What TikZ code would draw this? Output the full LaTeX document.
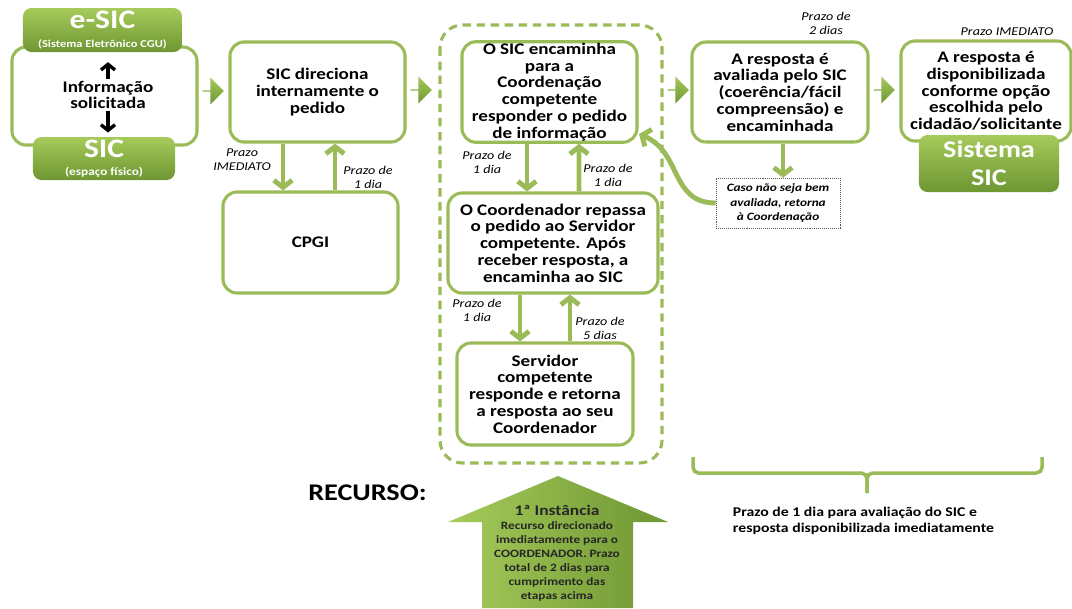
\documentclass[tikz,border=0pt]{standalone}
\usepackage{fontspec}
\setmainfont{Carlito}[FakeStretch=1.18]
\usetikzlibrary{arrows.meta,calc,shapes.arrows}
\definecolor{sicverde}{HTML}{9BBB59}
\definecolor{sicclaro}{HTML}{A6CB5B}
\definecolor{sicescuro}{HTML}{6E9632}

\begin{document}
\begin{tikzpicture}[x=0.025cm,y=-0.025cm,
  etapa/.style={draw=sicverde,line width=2.2pt,rounded corners=10pt,fill=white,align=center,inner sep=1pt,minimum width=4.375cm,minimum height=2.5cm,font=\fontsize{11.5}{11.9}\selectfont\bfseries},
  verde/.style={rounded corners=6pt,top color=sicclaro,bottom color=sicescuro,text=white,align=center,inner sep=1pt,font=\bfseries},
  seta/.style={draw=sicverde,line width=3.5pt,-{Straight Barb[length=5pt,width=13pt]}},
  preta/.style={line width=2.4pt,-{Straight Barb[length=4pt,width=10pt]}},
  prazo/.style={font=\fontsize{8.5}{9.8}\selectfont\itshape,align=center},
  passo/.style={single arrow,single arrow head extend=5pt,minimum height=15pt,minimum width=19pt,inner sep=0pt,top color=sicclaro,bottom color=sicescuro}]
\useasboundingbox (0,0) rectangle (1072,608);
\node[etapa,minimum width=4.625cm,minimum height=2.45cm] (info) at (104.5,96) {};
\node[font=\fontsize{11.5}{11.9}\selectfont\bfseries,align=center,inner sep=1pt] (infotxt) at (108,95) {Informação\\solicitada};
\node[verde,minimum width=3.975cm,minimum height=1.1cm] (esic) at (102.5,30) {{\fontsize{19}{19}\selectfont e-SIC}\\[1pt]{\fontsize{7.5}{8}\selectfont(Sistema Eletrônico CGU)}};
\node[verde,minimum width=3.55cm,minimum height=1.075cm] (sic) at (104,158.5) {{\fontsize{19}{19}\selectfont SIC}\\[1pt]{\fontsize{8}{9}\selectfont(espaço físico)}};
\draw[preta,shorten >=7pt] (infotxt.north) -- (infotxt.north |- esic.south);
\draw[preta,shorten >=3pt] (infotxt.south) -- (infotxt.south |- sic.north);
\node[passo] (p1) at (213,91) {};
\node[passo] (p2) at (421,90) {};
\node[passo] (p3) at (678,90) {};
\node[passo] (p4) at (884,90) {};
\node[etapa] (direciona) at (317.5,92) {SIC direciona\\internamente o\\pedido};
\node[etapa,minimum height=2.525cm] (cpgi) at (310.5,242.5) {CPGI};
\draw[sicverde,line width=2.2pt,dash pattern=on 6pt off 4pt,rounded corners=16pt] (440,25) rectangle (662,463);
\node[etapa] (encaminha) at (549.5,92) {O SIC encaminha\\para a\\Coordenação\\competente\\responder o pedido\\de informação};
\node[etapa,minimum width=5.25cm] (coord) at (553,243) {O Coordenador repassa\\o pedido ao Servidor\\competente. Após\\receber resposta, a\\encaminha ao SIC};
\node[etapa,minimum width=4.4cm,minimum height=2.55cm] (servidor) at (545,394) {Servidor\\competente\\responde e  retorna\\a resposta ao seu\\Coordenador};
\node[etapa,minimum width=4.4cm] (avaliada) at (780,92) {A resposta é\\avaliada pelo SIC\\(coerência/fácil\\compreensão) e\\encaminhada};
\node[etapa,minimum width=4.25cm] (disponib) at (986,91) {A resposta é\\disponibilizada\\conforme opção\\escolhida pelo\\cidadão/solicitante};
\node[verde,minimum width=3.5cm,minimum height=1.425cm,font=\fontsize{17}{20}\selectfont\bfseries] (sistema) at (989,163.5) {Sistema\\SIC};
\node[draw=gray!70!black,densely dotted,thin,fill=white,align=center,minimum width=3.1cm,minimum height=1.25cm,font=\fontsize{8}{10.3}\selectfont\bfseries\itshape] (caso) at (778,203) {Caso não  seja bem\\avaliada,  retorna\\à Coordenação};
\draw[seta] ($(direciona.south)+(-34.5,0)$) -- ($(cpgi.north)+(-27.5,0)$);
\draw[seta] ($(cpgi.north)+(24.5,0)$) -- ($(direciona.south)+(17.5,0)$);
\draw[seta] ($(encaminha.south)+(-22.5,0)$) -- ($(coord.north)+(-26,0)$);
\draw[seta] ($(coord.north)+(26,0)$) -- ($(encaminha.south)+(29.5,0)$);
\draw[seta] ($(coord.south)+(-33,0)$) -- ($(servidor.north)+(-25,0)$);
\draw[seta] ($(servidor.north)+(25,0)$) -- ($(coord.south)+(17,0)$);
\draw[seta] ($(avaliada.south)+(3,0)$) -- ($(caso.north)+(5,0)$);
\coordinate (retorno) at (639,134);
\draw[seta] (caso.west) .. controls (670,203) and (682,152) .. (retorno);
\node[prazo] (pz1) at (242,160) {Prazo\\IMEDIATO};
\node[prazo] (pz2) at (368,177) {Prazo de\\1 dia};
\node[prazo] (pz3) at (487,162) {Prazo de\\1 dia};
\node[prazo] (pz4) at (608,175) {Prazo de\\1 dia};
\node[prazo] (pz5) at (477,310) {Prazo de\\1 dia};
\node[prazo] (pz6) at (600,328) {Prazo de\\5 dias};
\node[prazo] (pz7) at (826,23) {Prazo de\\2 dias};
\node[prazo] (pz8) at (1007,32) {Prazo IMEDIATO};
\draw[sicverde,line width=2.5pt,rounded corners=4pt] (693,457) |- (867,473) -- (867,493);
\draw[sicverde,line width=2.5pt,rounded corners=4pt] (1042,457) |- (867,473) -- (867,493);
\node[anchor=west,align=left,font=\fontsize{9.5}{11.4}\selectfont\bfseries] (resumo) at (728,521) {Prazo de 1 dia para avaliação do SIC e\\resposta disponibilizada imediatamente};
\node[anchor=west,inner sep=0pt,font=\fontsize{17}{17}\selectfont\bfseries] (recurso) at (308,493) {RECURSO:};
\shade[left color=sicclaro,right color=sicescuro] (558,476) -- (668,522) -- (633,522) -- (633,608) -- (482,608) -- (482,522) -- (448,522) -- cycle;
\node[align=center,text=black!85,font=\fontsize{8}{10}\selectfont\bfseries] (instancia) at (557,553) {{\fontsize{10.5}{12}\selectfont 1ª Instância}\\Recurso direcionado\\imediatamente para o\\COORDENADOR. Prazo\\total de  2 dias para\\cumprimento  das\\etapas acima};
\end{tikzpicture}
\end{document}
